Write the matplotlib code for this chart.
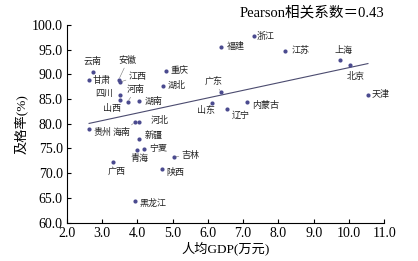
import matplotlib
matplotlib.use('Agg')
import matplotlib.pyplot as plt
import numpy as np

plt.rcParams['font.family'] = ['Liberation Serif', 'Noto Sans CJK SC']

# --- data ---
provinces = ['云南', '甘肃', '安徽', '江西', '重庆', '湖北', '四川', '山西', '河南', '湖南',
             '海南', '河北', '贵州', '新疆', '宁夏', '青海', '广西', '吉林', '陕西', '黑龙江',
             '浙江', '福建', '江苏', '上海', '北京', '广东', '山东', '辽宁', '内蒙古', '天津']
gdp = [2.73, 2.63, 3.47, 3.50, 4.80, 4.73, 3.52, 3.52, 3.72, 4.04,
       3.93, 4.04, 2.63, 4.06, 4.19, 3.98, 3.32, 5.03, 4.70, 3.93,
       7.31, 6.37, 8.20, 9.76, 10.02, 6.38, 6.11, 6.54, 7.12, 10.54]
pass_rate = [90.5, 88.8, 88.9, 88.4, 90.7, 87.6, 85.9, 84.8, 84.4, 84.6,
             80.3, 80.3, 78.9, 77.0, 74.95, 74.7, 72.2, 73.3, 70.8, 64.3,
             97.8, 95.6, 94.8, 92.8, 91.9, 86.4, 84.2, 82.9, 84.3, 85.9]

# label offsets in pixels (dx, dy), alignment, leader line
label_pos = {
    '云南': (0, 10, 'center', False), '甘肃': (3, 0, 'left', False),
    '安徽': (9, 19, 'center', True), '江西': (18, 6, 'center', True),
    '重庆': (5, 0, 'left', False), '湖北': (5, 1, 'left', False),
    '四川': (-7, 1, 'right', False), '山西': (-8, -9, 'center', False),
    '河南': (8, 12, 'center', True), '湖南': (6, 0, 'left', False),
    '海南': (-13, -10, 'center', True), '河北': (12, 2, 'left', False),
    '贵州': (4, -3, 'left', False), '新疆': (5, 3, 'left', False),
    '宁夏': (5, 0, 'left', False), '青海': (3, -9, 'center', False),
    '广西': (3, -9, 'center', False), '吉林': (8, 1, 'left', True),
    '陕西': (4, -3, 'left', False), '黑龙江': (5, -2, 'left', False),
    '浙江': (3, -1, 'left', False), '福建': (6, 0, 'left', False),
    '江苏': (6, 0, 'left', False), '上海': (3, 10, 'center', False),
    '北京': (6, -12, 'center', False), '广东': (-8, 10, 'center', True),
    '山东': (-6, -8, 'center', False), '辽宁': (5, -6, 'left', False),
    '内蒙古': (5, -3, 'left', False), '天津': (4, 0, 'left', False),
}

pearson_r = 0.43

fig = plt.figure(figsize=(4.18, 2.61), dpi=100)
ax = fig.add_axes([0.160, 0.147, 0.759, 0.758])

ax.scatter(gdp, pass_rate, s=9, color='#4b4b8f', zorder=3, linewidths=0)

# linear trend line
k, b = np.polyfit(gdp, pass_rate, 1)
xs = np.array([min(gdp), max(gdp)])
ax.plot(xs, k * xs + b, color='#4b4b6f', lw=0.8, zorder=2)

for name, x, y in zip(provinces, gdp, pass_rate):
    dx, dy, ha, lead = label_pos[name]
    ax.annotate(name, (x, y), xytext=(dx, dy), textcoords='offset pixels',
                ha=ha, va='center', fontsize=6.5, family=['Noto Sans CJK SC'],
                color='#222222',
                arrowprops=dict(arrowstyle='-', lw=0.4, color='#777777',
                                shrinkA=0, shrinkB=1.5) if lead else None)

ax.text(1.0, 1.06, f'Pearson相关系数＝{pearson_r:.2f}', transform=ax.transAxes,
        ha='right', va='center', fontsize=10.5)

ax.set_xlim(2.0, 11.0)
ax.set_ylim(60.0, 100.0)
ax.set_xticks(np.arange(2, 11.5, 1))
ax.set_yticks(np.arange(60, 101, 5))
ax.set_xticklabels([f'{v:.1f}' for v in np.arange(2, 11.5, 1)])
ax.set_yticklabels([f'{v:.1f}' for v in np.arange(60, 101, 5)])
ax.tick_params(direction='in', length=3, width=0.8, labelsize=10, pad=3)
ax.spines['top'].set_visible(False)
ax.spines['right'].set_visible(False)
for s in ('left', 'bottom'):
    ax.spines[s].set_linewidth(0.8)

ax.set_xlabel('人均GDP(万元)', fontsize=9.5, labelpad=1)
ax.set_ylabel('及格率(%)', fontsize=9.5, labelpad=3)

fig.savefig('out.png', dpi=100)
